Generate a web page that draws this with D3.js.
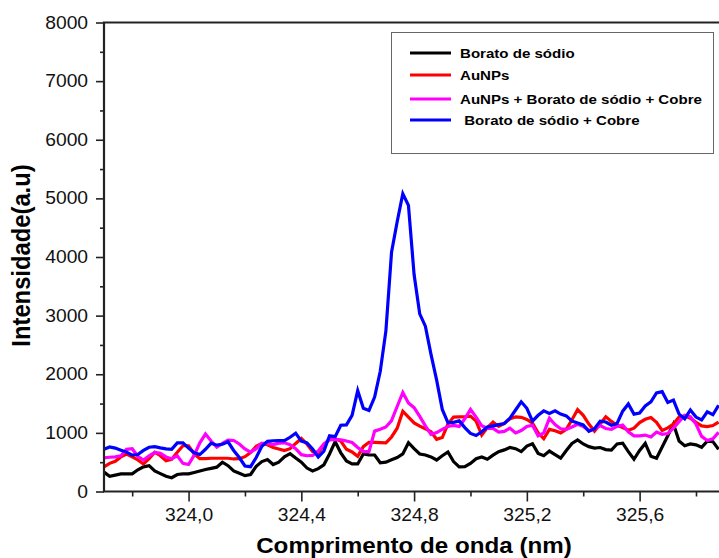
<!DOCTYPE html>
<html>
<head>
<meta charset="utf-8">
<script src="https://cdn.jsdelivr.net/npm/d3@7"></script>
<style>
  html, body { margin: 0; padding: 0; background: #fff; }
  svg { display: block; font-family: "Liberation Sans", Arial, sans-serif; }
</style>
</head>
<body>
<svg id="chart" width="719" height="558"></svg>
<script>
// wavelength grid: 323.70 nm, step 0.02 nm
const X_START = 323.70;
const X_STEP  = 0.02;

const borato = [
  330, 260, 280, 300, 300, 300, 370, 420, 440, 350,
  305, 260, 235, 290, 300, 300, 325, 350, 375, 395,
  415, 500, 440, 350, 310, 270, 290, 430, 510, 545,
  460, 500, 590, 645, 570, 500, 400, 350, 390, 455,
  640, 850, 660, 520, 470, 470, 640, 625, 623, 490,
  500, 540, 580, 640, 833, 730, 640, 623, 590, 537,
  610, 675, 510, 420, 423, 480, 560, 590, 550, 620,
  680, 710, 750, 730, 680, 776, 815, 650, 610, 690,
  630, 570, 700, 820, 880, 811, 765, 740, 750, 715,
  708, 810, 825, 680, 550, 700, 820, 600, 567, 760,
  950, 1150, 860, 780, 811, 795, 754, 860, 850, 720
];

const aunps = [
  420, 480, 515, 590, 640, 590, 540, 470, 560, 670,
  610, 525, 550, 670, 780, 780, 640, 560, 560, 567,
  567, 567, 567, 555, 560, 594, 665, 770, 820, 797,
  750, 725, 700, 730, 820, 905, 810, 680, 660, 790,
  900, 900, 860, 720, 675, 600, 765, 840, 838, 833,
  828, 930, 1080, 1370, 1270, 1170, 1115, 1070, 1020, 890,
  920, 1150, 1270, 1272, 1275, 1285, 1200, 964, 1090, 1185,
  1110, 1160, 1240, 1272, 1265, 1230, 1165, 1000, 900, 1060,
  1035, 1000, 1060, 1225, 1395, 1300, 1150, 1030, 1150, 1275,
  1195, 1130, 1090, 1045, 1080, 1175, 1232, 1262, 1180, 1040,
  1085, 1150, 1270, 1290, 1250, 1180, 1118, 1108, 1125, 1185
];

const aunpsBoratoCobre = [
  575, 584, 590, 610, 720, 730, 600, 537, 610, 665,
  650, 590, 560, 610, 480, 460, 620, 830, 980, 860,
  755, 820, 875, 870, 810, 725, 670, 730, 822, 822,
  800, 825, 830, 800, 730, 628, 610, 615, 690, 810,
  880, 890, 880, 862, 835, 750, 680, 679, 1030, 1062,
  1100, 1210, 1450, 1690, 1510, 1430, 1280, 1120, 975, 1005,
  1060, 1110, 1128, 1110, 1240, 1400, 1270, 1120, 1078, 1078,
  1015, 1025, 1080, 1000, 1040, 1110, 1130, 950, 1000, 1250,
  1140, 1070, 1060, 1100, 1146, 1110, 1040, 1070, 1125, 1075,
  1062, 1110, 1133, 1020, 950, 950, 962, 930, 1015, 975,
  990, 1080, 1190, 1300, 1275, 1150, 940, 870, 900, 1010
];

const boratoCobre = [
  720, 760, 740, 705, 672, 620, 630, 700, 755, 765,
  745, 728, 720, 830, 830, 740, 660, 630, 720, 825,
  790, 805, 848, 700, 580, 435, 423, 580, 770, 855,
  866, 867, 867, 925, 995, 860, 830, 725, 590, 690,
  950, 935, 1130, 1137, 1300, 1720, 1420, 1382, 1610, 2050,
  2740, 4080, 4600, 5080, 4880, 3700, 3030, 2820, 2340, 1900,
  1400, 1175, 1180, 1205, 1090, 990, 955, 1020, 1100, 1120,
  1140, 1160, 1250, 1390, 1530, 1420, 1200, 1300, 1375, 1330,
  1375, 1320, 1290, 1200, 1170, 1135, 1025, 1070, 1200, 1185,
  1130, 1160, 1370, 1493, 1320, 1340, 1460, 1530, 1680, 1703,
  1520, 1560, 1320, 1240, 1390, 1270, 1220, 1360, 1310, 1470
];

const seriesNames  = ["Borato de sódio", "AuNPs", "AuNPs + Borato de sódio + Cobre", " Borato de sódio + Cobre"];
const seriesColors = ["#000000", "#ff0000", "#ff00ff", "#0000ff"];
const seriesValues = [borato, aunps, aunpsBoratoCobre, boratoCobre];

const xTicks = [324.0, 324.4, 324.8, 325.2, 325.6];
const yTicks = [0, 1000, 2000, 3000, 4000, 5000, 6000, 7000, 8000];

// ---------------------------------------------------------
// LAYOUT
// ---------------------------------------------------------
const svg = d3.select("#chart");
const plotLeft = 104, plotTop = 22.5, plotBottom = 491.5;
const pxPerNm = 281.9;
const STRETCH = 1.1; // source picture is a bit wider than tall

const x = d3.scaleLinear()
  .domain([323.7, 325.9])
  .range([plotLeft, plotLeft + 2.2 * pxPerNm]);

const y = d3.scaleLinear()
  .domain([0, 8000])
  .range([plotBottom, plotTop]);

const comma = v => d3.format(".1f")(v).replace(".", ",");

svg.append("defs").append("clipPath").attr("id", "plotClip")
  .append("rect")
  .attr("x", plotLeft).attr("y", plotTop)
  .attr("width", 719 - plotLeft).attr("height", plotBottom - plotTop);

// ---------------------------------------------------------
// LINES
// ---------------------------------------------------------
const line = d3.line()
  .x((d, i) => x(X_START + i * X_STEP))
  .y(d => y(d));

const plot = svg.append("g").attr("clip-path", "url(#plotClip)");
seriesValues.forEach((vals, k) => {
  plot.append("path")
    .datum(vals)
    .attr("fill", "none")
    .attr("stroke", seriesColors[k])
    .attr("stroke-width", 3.2)
    .attr("stroke-linejoin", "miter")
    .attr("d", line);
});

// ---------------------------------------------------------
// AXES
// ---------------------------------------------------------
const yAxis = svg.append("g")
  .attr("transform", `translate(${plotLeft},0)`)
  .call(d3.axisLeft(y).tickValues(yTicks).tickSize(8).tickPadding(6.5).tickFormat(d3.format("d")));

const yMinor = svg.append("g")
  .attr("transform", `translate(${plotLeft},0)`)
  .call(d3.axisLeft(y).tickValues(d3.range(500, 8000, 1000)).tickSize(4).tickFormat(""));

const xAxis = svg.append("g")
  .attr("transform", `translate(0,${plotBottom})`)
  .call(d3.axisBottom(x).tickValues(xTicks).tickSize(10).tickPadding(7).tickFormat(comma));

const xMinor = svg.append("g")
  .attr("transform", `translate(0,${plotBottom})`)
  .call(d3.axisBottom(x).tickValues([323.8, 324.2, 324.6, 325.0, 325.4, 325.8]).tickSize(5).tickFormat(""));

[yAxis, yMinor, xAxis, xMinor].forEach(g => {
  g.select(".domain").remove();
  g.selectAll("line").attr("stroke", "#222").attr("stroke-width", 1.6);
  g.selectAll("text")
    .style("font-size", "17.5px")
    .style("font-family", "Liberation Sans, Arial, sans-serif")
    .attr("transform", `scale(${STRETCH},1)`)
    .attr("fill", "#111");
});

// frame: left, bottom, top
svg.append("path")
  .attr("d", `M719,${plotTop}H${plotLeft}V${plotBottom}H719`)
  .attr("fill", "none")
  .attr("stroke", "#222")
  .attr("stroke-width", 2.2);

// axis titles
svg.append("text")
  .attr("transform", `translate(414,553) scale(${STRETCH},1)`)
  .attr("text-anchor", "middle")
  .style("font-size", "22px").style("font-weight", "bold")
  .text("Comprimento de onda (nm)");

svg.append("text")
  .attr("transform", `translate(30,255.5) rotate(-90) scale(1,${STRETCH})`)
  .attr("text-anchor", "middle")
  .style("font-size", "23.8px").style("font-weight", "bold")
  .text("Intensidade(a.u)");

// ---------------------------------------------------------
// LEGEND
// ---------------------------------------------------------
const legend = svg.append("g");
legend.append("rect")
  .attr("x", 391.5).attr("y", 32.5)
  .attr("width", 322).attr("height", 121)
  .attr("fill", "#fff")
  .attr("stroke", "#666").attr("stroke-width", 1);

const legendRows = [53, 75, 99, 120];
seriesNames.forEach((name, k) => {
  const ly = legendRows[k];
  legend.append("line")
    .attr("x1", 410).attr("x2", 451)
    .attr("y1", ly).attr("y2", ly)
    .attr("stroke", seriesColors[k]).attr("stroke-width", 3);
  legend.append("text")
    .attr("transform", `translate(460,${ly}) scale(1.16,1)`)
    .attr("dy", "0.35em")
    .attr("xml:space", "preserve")
    .style("white-space", "pre")
    .style("font-size", "13px").style("font-weight", "bold")
    .text(name);
});
</script>
</body>
</html>
